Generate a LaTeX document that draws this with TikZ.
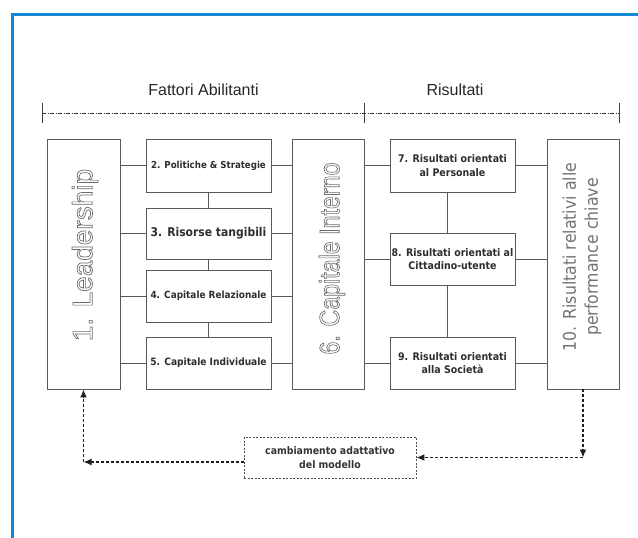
\documentclass[tikz,border=0pt]{standalone}
\usepackage{fontspec}
\setmainfont{Liberation Sans}
\newfontfamily\boxfont{DejaVu Sans}[FakeStretch=0.9]
\usetikzlibrary{arrows.meta}
\definecolor{frameblue}{RGB}{20,136,210}
\newcommand\outl[1]{\special{pdf:code 1 Tr 0.7 w}#1\special{pdf:code 0 Tr}}
\tikzset{
  box/.style={draw=black!65, line width=0.9pt, fill=white, inner sep=0pt, align=center,
    font=\boxfont\bfseries, text=black!82},
  conn/.style={draw=black!65, line width=0.9pt},
  hdr/.style={font=\fontsize{16}{19}\selectfont, text=black!85, inner sep=0pt},
  hdrline/.style={draw=black!80, line width=0.7pt, dash pattern=on 4pt off 1.5pt on 1pt off 1.5pt},
  tick/.style={draw=black!75, line width=0.8pt},
  bigtxt/.style={font=\fontsize{28}{32}\selectfont, text=black!58, inner sep=0pt},
  fb/.style={draw=black!88, line width=1.3pt, dash pattern=on 3pt off 2pt,
    -{Latex[length=8pt,width=7pt]}},
  cmbox/.style={draw=black!70, line width=0.9pt, dash pattern=on 2pt off 1.5pt, inner sep=0pt,
    align=center, font=\boxfont\bfseries\fontsize{10.4}{13.5}\selectfont, text=black!80},
  frame/.style={draw=frameblue, line width=3pt}
}
\begin{document}
\begin{tikzpicture}[x=1pt,y=-1pt]
\useasboundingbox (0,0) rectangle (638,538);
% blue frame (top and left)
\draw[frame] (10.5,14.5) -- (638,14.5);
\draw[frame] (12,13) -- (12,538);

% header
\node[hdr] (h1) at (203.5,90) {Fattori Abilitanti};
\node[hdr] (h2) at (455,90) {Risultati};
\coordinate (hl) at (42,113);
\coordinate (hm) at (364,113);
\coordinate (hr) at (619,113);
\draw[hdrline] (hl) -- (hr);
\draw[tick] ([yshift=10pt]hl) -- ([yshift=-10pt]hl);
\draw[tick] ([yshift=10pt]hm) -- ([yshift=-10pt]hm);
\draw[tick] ([yshift=10pt]hr) -- ([yshift=-10pt]hr);

% boxes
\node[box, minimum width=73pt, minimum height=250pt] (L) at (83.5,264) {};
\node[box, minimum width=125pt, minimum height=53pt, font=\boxfont\bfseries\fontsize{9.6}{12}\selectfont] (B2) at (208.5,165.5) {2. Politiche \& Strategie};
\node[box, minimum width=125pt, minimum height=51pt, font=\boxfont\bfseries\fontsize{12}{14}\selectfont] (B3) at (208.5,233.5) {3. Risorse tangibili};
\node[box, minimum width=125pt, minimum height=52pt, font=\boxfont\bfseries\fontsize{9.9}{12}\selectfont] (B4) at (208.5,296) {4. Capitale Relazionale};
\node[box, minimum width=125pt, minimum height=52pt, font=\boxfont\bfseries\fontsize{10.1}{12}\selectfont] (B5) at (208.5,363) {5. Capitale Individuale};
\node[box, minimum width=72pt, minimum height=250pt] (CI) at (328,264) {};
\node[box, minimum width=125pt, minimum height=53pt, font=\boxfont\bfseries\fontsize{10.5}{13.3}\selectfont] (B7) at (452.5,165.5) {7. Risultati orientati\\al Personale};
\node[box, minimum width=125pt, minimum height=52pt, font=\boxfont\bfseries\fontsize{10.5}{13.3}\selectfont] (B8) at (452.5,259) {8. Risultati orientati al\\Cittadino-utente};
\node[box, minimum width=125pt, minimum height=52pt, font=\boxfont\bfseries\fontsize{10.5}{13.3}\selectfont] (B9) at (452.5,363) {9. Risultati orientati\\alla Società};
\node[box, minimum width=72pt, minimum height=250pt] (B10) at (583,264) {};

% big rotated labels
\node[bigtxt, rotate=90] (Ltxt) at (85,255) {\outl{1. Leadership}};
\node[bigtxt, rotate=90] (CItxt) at (332,258.5) {\scalebox{0.83}[1]{\outl{6. Capitale Interno}}};
\node[rotate=90, align=center, inner sep=0pt, text=black!55,
  font=\boxfont\fontsize{17.5}{22}\selectfont] (B10txt) at (582,257) {10. Risultati relativi alle\\performance chiave};

% connectors, left part
\foreach \b in {B2,B3,B4,B5}{
  \draw[conn] (L.east |- \b.west) -- (\b.west);
  \draw[conn] (\b.east) -- (\b.east -| CI.west);
}
\draw[conn] (B2.south) -- (B3.north);
\draw[conn] (B3.south) -- (B4.north);
\draw[conn] (B4.south) -- (B5.north);
% connectors, right part
\foreach \b in {B7,B8,B9}{
  \draw[conn] (CI.east |- \b.west) -- (\b.west);
  \draw[conn] (\b.east) -- (\b.east -| B10.west);
}
\draw[conn] ([xshift=-5.5pt]B7.south) -- ([xshift=-5.5pt]B8.north);
\draw[conn] ([xshift=-5.5pt]B8.south) -- ([xshift=-5.5pt]B9.north);

% feedback loop
\node[cmbox, minimum width=172pt, minimum height=41pt] (CM) at (330,457.5) {cambiamento adattativo\\del modello};
\coordinate (cR) at (B10.south |- CM.east);
\coordinate (cL) at (83.5,462);
\draw[fb] (B10.south) -- (cR);
\draw[fb] (cR) -- (CM.east);
\draw[fb] (CM.west |- cL) -- (cL);
\draw[fb] (cL) -- (L.south);
\end{tikzpicture}
\end{document}
